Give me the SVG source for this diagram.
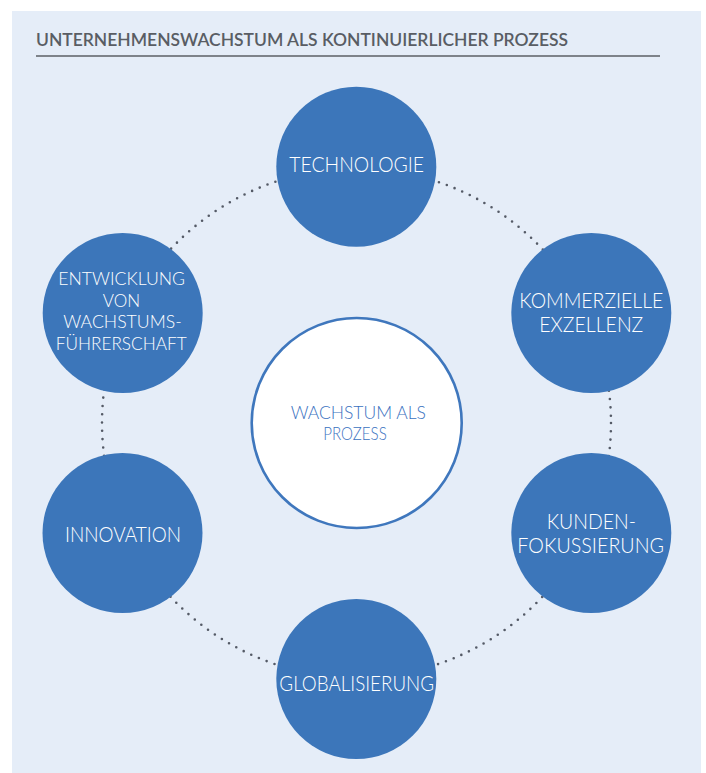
<svg xmlns="http://www.w3.org/2000/svg" width="706" height="773" viewBox="0 0 706 773">
  <style>
    .panel { fill: #e5edf8; }
    .title { font-family: Lato, "Open Sans", "Liberation Sans", sans-serif; font-size: 17px; font-weight: 600; fill: #595d64; }
    .rule { stroke: #5b5f66; stroke-width: 1.6; }
    .ring { fill: none; stroke: #545a66; stroke-width: 2.6; stroke-linecap: round; stroke-dasharray: 0 8.33; }
    .node { fill: #3c76ba; }
    .hub { fill: #ffffff; stroke: #3f77bd; stroke-width: 2.6; }
    .label { font-family: Lato, "Open Sans", "Liberation Sans", sans-serif; font-size: 21px; font-weight: 300; fill: #ffffff; text-anchor: middle; }
    .label.small { font-size: 18.5px; }
    .hub-label { font-family: Lato, "Open Sans", "Liberation Sans", sans-serif; font-size: 17px; font-weight: 300; fill: #3a72bf; text-anchor: middle; }
  </style>

  <!-- background panel -->
  <rect class="panel" x="12" y="11" width="689" height="762"/>

  <!-- heading with rule -->
  <text class="title" x="36" y="45.7" textLength="532" lengthAdjust="spacingAndGlyphs">UNTERNEHMENSWACHSTUM ALS KONTINUIERLICHER PROZESS</text>
  <line class="rule" x1="36" y1="56" x2="660" y2="56"/>

  <!-- dotted cycle linking the outer nodes -->
  <g id="connectors">
    <circle class="ring" cx="356.5" cy="423" r="254.5"/>
  </g>

  <!-- centre -->
  <g id="hub">
    <circle class="hub" cx="356.7" cy="423" r="105"/>
    <text class="hub-label" x="358.3" y="419.3" textLength="135.3" lengthAdjust="spacingAndGlyphs">WACHSTUM ALS</text>
    <text class="hub-label" x="355" y="440" textLength="63.4" lengthAdjust="spacingAndGlyphs">PROZESS</text>
  </g>

  <g id="technologie">
    <circle class="node" cx="356.3" cy="166.7" r="80"/>
    <text class="label" x="356.7" y="171.7" textLength="134.7" lengthAdjust="spacingAndGlyphs">TECHNOLOGIE</text>
  </g>

  <g id="kommerzielle-exzellenz">
    <circle class="node" cx="591.3" cy="313" r="80"/>
    <text class="label" x="591.3" y="308.3" textLength="144" lengthAdjust="spacingAndGlyphs">KOMMERZIELLE</text>
    <text class="label" x="591.3" y="331.7" textLength="104" lengthAdjust="spacingAndGlyphs">EXZELLENZ</text>
  </g>

  <g id="kundenfokussierung">
    <circle class="node" cx="591.3" cy="533" r="80"/>
    <text class="label" x="591.3" y="529" textLength="89.3" lengthAdjust="spacingAndGlyphs">KUNDEN-</text>
    <text class="label" x="590.7" y="552.7" textLength="146.7" lengthAdjust="spacingAndGlyphs">FOKUSSIERUNG</text>
  </g>

  <g id="globalisierung">
    <circle class="node" cx="356.3" cy="679" r="80"/>
    <text class="label" x="356.7" y="691" textLength="154.7" lengthAdjust="spacingAndGlyphs">GLOBALISIERUNG</text>
  </g>

  <g id="innovation">
    <circle class="node" cx="122.5" cy="533" r="80"/>
    <text class="label" x="123" y="542" textLength="116" lengthAdjust="spacingAndGlyphs">INNOVATION</text>
  </g>

  <g id="wachstumsfuehrerschaft">
    <circle class="node" cx="122.7" cy="313" r="80"/>
    <text class="label small" x="121.7" y="285.2" textLength="126.7" lengthAdjust="spacingAndGlyphs">ENTWICKLUNG</text>
    <text class="label small" x="121.4" y="306.6" textLength="37.3" lengthAdjust="spacingAndGlyphs">VON</text>
    <text class="label small" x="122.5" y="328" textLength="118.4" lengthAdjust="spacingAndGlyphs">WACHSTUMS-</text>
    <text class="label small" x="121.2" y="350" textLength="131" lengthAdjust="spacingAndGlyphs">FÜHRERSCHAFT</text>
  </g>
</svg>
